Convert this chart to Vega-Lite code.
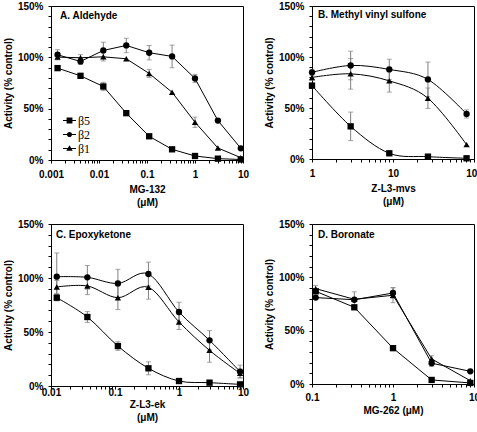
{
  "$schema": "https://vega.github.io/schema/vega-lite/v6.json",
  "padding": {"left": 2, "top": 0, "right": 0, "bottom": 0},
  "background": "white",
  "datasets": {
    "d": [
      {"p":"A","s":"β5","x":0.00137,"y":89.5},
      {"p":"A","s":"β5","x":0.00412,"y":82},
      {"p":"A","s":"β5","x":0.0123,"y":71.6,"lo":67.6,"hi":75.6},
      {"p":"A","s":"β5","x":0.037,"y":45.6},
      {"p":"A","s":"β5","x":0.111,"y":23.1},
      {"p":"A","s":"β5","x":0.333,"y":10.4},
      {"p":"A","s":"β5","x":1,"y":3.9},
      {"p":"A","s":"β5","x":3,"y":1.3},
      {"p":"A","s":"β5","x":9,"y":0.5},
      {"p":"A","s":"β2","x":0.00137,"y":102.5,"lo":97.5,"hi":107.5},
      {"p":"A","s":"β2","x":0.00412,"y":96,"lo":93,"hi":99},
      {"p":"A","s":"β2","x":0.0123,"y":106.7,"lo":98.7,"hi":114.7},
      {"p":"A","s":"β2","x":0.037,"y":111.6,"lo":104.6,"hi":118.6},
      {"p":"A","s":"β2","x":0.111,"y":104.5,"lo":97.5,"hi":111.5},
      {"p":"A","s":"β2","x":0.333,"y":100.9,"lo":89.9,"hi":111.9},
      {"p":"A","s":"β2","x":1,"y":79.4,"lo":75.4,"hi":83.4},
      {"p":"A","s":"β2","x":3,"y":38.4,"lo":36.4,"hi":40.4},
      {"p":"A","s":"β2","x":9,"y":11.4},
      {"p":"A","s":"β1","x":0.00137,"y":100.2},
      {"p":"A","s":"β1","x":0.00412,"y":99.6,"lo":96.6,"hi":102.6},
      {"p":"A","s":"β1","x":0.0123,"y":100.5,"lo":96.5,"hi":104.5},
      {"p":"A","s":"β1","x":0.037,"y":98.6},
      {"p":"A","s":"β1","x":0.111,"y":84.3,"lo":80.3,"hi":88.3},
      {"p":"A","s":"β1","x":0.333,"y":66},
      {"p":"A","s":"β1","x":1,"y":36.8,"lo":31.8,"hi":41.8},
      {"p":"A","s":"β1","x":3,"y":11.7},
      {"p":"A","s":"β1","x":9,"y":2.3},

      {"p":"B","s":"β5","x":1,"y":72},
      {"p":"B","s":"β5","x":3,"y":32,"lo":18,"hi":46},
      {"p":"B","s":"β5","x":9,"y":5.6},
      {"p":"B","s":"β5","x":27,"y":2.3},
      {"p":"B","s":"β5","x":81,"y":0.7},
      {"p":"B","s":"β2","x":1,"y":85,"lo":82,"hi":88},
      {"p":"B","s":"β2","x":3,"y":91.7,"lo":77.7,"hi":105.7},
      {"p":"B","s":"β2","x":9,"y":87.8,"lo":77.8,"hi":97.8},
      {"p":"B","s":"β2","x":27,"y":78,"lo":61,"hi":95},
      {"p":"B","s":"β2","x":81,"y":44.2,"lo":40.2,"hi":48.2},
      {"p":"B","s":"β1","x":1,"y":80,"lo":77,"hi":83},
      {"p":"B","s":"β1","x":3,"y":83.5,"lo":68.5,"hi":98.5},
      {"p":"B","s":"β1","x":9,"y":76.6,"lo":65.6,"hi":87.6},
      {"p":"B","s":"β1","x":27,"y":59.6,"lo":49.6,"hi":69.6},
      {"p":"B","s":"β1","x":81,"y":14.1},

      {"p":"C","s":"β5","x":0.0123,"y":81.8,"lo":78.8,"hi":84.8},
      {"p":"C","s":"β5","x":0.037,"y":63.9,"lo":58.9,"hi":68.9},
      {"p":"C","s":"β5","x":0.111,"y":37,"lo":33,"hi":41},
      {"p":"C","s":"β5","x":0.333,"y":16.4,"lo":10.4,"hi":22.4},
      {"p":"C","s":"β5","x":1,"y":4.6},
      {"p":"C","s":"β5","x":3,"y":3.1},
      {"p":"C","s":"β5","x":9,"y":1.5},
      {"p":"C","s":"β2","x":0.0123,"y":101.2,"lo":79.2,"hi":123.2},
      {"p":"C","s":"β2","x":0.037,"y":100.6,"lo":89.6,"hi":111.6},
      {"p":"C","s":"β2","x":0.111,"y":95,"lo":82,"hi":108},
      {"p":"C","s":"β2","x":0.333,"y":103.7,"lo":92.7,"hi":114.7},
      {"p":"C","s":"β2","x":1,"y":68.5,"lo":59.5,"hi":77.5},
      {"p":"C","s":"β2","x":3,"y":42.3,"lo":33.3,"hi":51.3},
      {"p":"C","s":"β2","x":9,"y":13.3,"lo":7.3,"hi":19.3},
      {"p":"C","s":"β1","x":0.0123,"y":91.7,"lo":85.7,"hi":97.7},
      {"p":"C","s":"β1","x":0.037,"y":92.6,"lo":84.6,"hi":100.6},
      {"p":"C","s":"β1","x":0.111,"y":81.8,"lo":70.8,"hi":92.8},
      {"p":"C","s":"β1","x":0.333,"y":91.4,"lo":80.4,"hi":102.4},
      {"p":"C","s":"β1","x":1,"y":59.3,"lo":52.3,"hi":66.3},
      {"p":"C","s":"β1","x":3,"y":33,"lo":22,"hi":44},
      {"p":"C","s":"β1","x":9,"y":11.7,"lo":7.7,"hi":15.7},

      {"p":"D","s":"β5","x":0.111,"y":86.9},
      {"p":"D","s":"β5","x":0.333,"y":71.9},
      {"p":"D","s":"β5","x":1,"y":33.6},
      {"p":"D","s":"β5","x":3,"y":3.8},
      {"p":"D","s":"β5","x":9,"y":1},
      {"p":"D","s":"β2","x":0.111,"y":81},
      {"p":"D","s":"β2","x":0.333,"y":79},
      {"p":"D","s":"β2","x":1,"y":85.3,"lo":80.3,"hi":90.3},
      {"p":"D","s":"β2","x":3,"y":19.5,"lo":16.5,"hi":22.5},
      {"p":"D","s":"β2","x":9,"y":11.9},
      {"p":"D","s":"β1","x":0.111,"y":89.4,"lo":86.4,"hi":92.4},
      {"p":"D","s":"β1","x":0.333,"y":79.4,"lo":72.4,"hi":86.4},
      {"p":"D","s":"β1","x":1,"y":83.2,"lo":76.2,"hi":90.2},
      {"p":"D","s":"β1","x":3,"y":23.5,"lo":20.5,"hi":26.5},
      {"p":"D","s":"β1","x":9,"y":3.1}
    ]
  },
  "resolve": {"scale": {"shape": "independent"}, "legend": {"shape": "independent"}},
  "spacing": 10,
  "vconcat": [
    {
      "resolve": {"scale": {"shape": "independent"}, "legend": {"shape": "independent"}},
      "spacing": 13,
      "hconcat": [
        {
          "width": 192, "height": 154,
          "title": {"text": "A. Aldehyde", "dx": 9, "offset": -20},
          "data": {"name": "d"},
          "transform": [{"filter": "datum.p == 'A'"}],
          "resolve": {"scale": {"shape": "independent", "size": "independent"}, "legend": {"shape": "independent"}},
          "encoding": {
            "x": {"field": "x", "type": "quantitative",
              "scale": {"type": "log", "domain": [0.001, 10]},
              "axis": {"title": ["MG-132", "(μM)"],
                "values": [0.001,0.002,0.003,0.004,0.005,0.006,0.007,0.008,0.009,0.01,0.02,0.03,0.04,0.05,0.06,0.07,0.08,0.09,0.1,0.2,0.3,0.4,0.5,0.6,0.7,0.8,0.9,1,2,3,4,5,6,7,8,9,10],
                "labelExpr": "indexof([0.001,0.01,0.1,1,10,100], datum.value) >= 0 ? format(datum.value, '~g') : ''",
                "labelPadding": 6, "titlePadding": 5}},
            "y": {"field": "y", "type": "quantitative", "scale": {"domain": [0, 150]},
              "axis": {"title": "Activity (% control)", "values": [0,10,20,30,40,50,60,70,80,90,100,110,120,130,140,150],
                "labelExpr": "datum.value % 50 == 0 ? datum.value + '%' : ''"}}
          },
          "layer": [
            {"transform": [{"filter": "isValid(datum.lo)"}], "mark": {"type": "rule", "color": "#808080", "strokeWidth": 1},
             "encoding": {"y": {"field": "lo", "type": "quantitative"}, "y2": {"field": "hi"}}},
            {"transform": [{"filter": "isValid(datum.lo)"}], "mark": {"type": "tick", "orient": "horizontal", "color": "#808080", "size": 5, "thickness": 1},
             "encoding": {"y": {"field": "lo", "type": "quantitative"}}},
            {"transform": [{"filter": "isValid(datum.lo)"}], "mark": {"type": "tick", "orient": "horizontal", "color": "#808080", "size": 5, "thickness": 1},
             "encoding": {"y": {"field": "hi", "type": "quantitative"}}},
            {"mark": {"type": "line", "color": "black", "strokeWidth": 1}, "encoding": {"detail": {"field": "s"}}},
            {"mark": {"type": "point", "filled": true, "color": "black", "opacity": 1},
             "encoding": {
               "shape": {"field": "s", "type": "nominal",
                 "scale": {"domain": ["β5", "β2", "β1"], "range": ["square", "circle", "triangle-up"]},
                 "legend": null},
               "size": {"value": 40}
             }
            },
            {"transform": [{"filter": "false"}],
             "mark": {"type": "point", "filled": true, "color": "black", "opacity": 1, "size": 169},
             "encoding": {
               "shape": {"field": "s", "type": "nominal",
                 "scale": {"domain": ["β5", "β2", "β1"], "range": [
                   "M-1,-0.08H1V0.08H-1ZM-0.45,-0.45H0.45V0.45H-0.45Z",
                   "M-1,-0.08H1V0.08H-1ZM0.4,0A0.4,0.4,0,1,1,-0.4,0A0.4,0.4,0,1,1,0.4,0Z",
                   "M-1,-0.08H1V0.08H-1ZM0,-0.5L0.5,0.35H-0.5Z"]},
                 "legend": {"orient": "none", "legendX": 11, "legendY": 107, "title": null, "padding": 0,
                   "labelFont": "Liberation Serif", "labelFontSize": 12, "labelFontWeight": "normal", "labelColor": "black",
                   "symbolSize": 169, "symbolFillColor": "black", "symbolOpacity": 1,
                   "rowPadding": 0, "labelOffset": 1}
               },
               "size": {"value": 169}
             }
            }
          ]
        },
        {
          "width": 162, "height": 153,
          "title": {"text": "B. Methyl vinyl sulfone", "dx": 6, "offset": -19},
          "data": {"name": "d"},
          "transform": [{"filter": "datum.p == 'B'"}],
          "encoding": {
            "x": {"field": "x", "type": "quantitative",
              "scale": {"type": "log", "domain": [1, 100]},
              "axis": {"title": ["Z-L3-mvs", "(μM)"],
                "values": [1,2,3,4,5,6,7,8,9,10,20,30,40,50,60,70,80,90,100],
                "labelExpr": "indexof([0.001,0.01,0.1,1,10,100], datum.value) >= 0 ? format(datum.value, '~g') : ''",
                "labelPadding": 6, "titlePadding": 5}},
            "y": {"field": "y", "type": "quantitative", "scale": {"domain": [0, 150]},
              "axis": {"title": "Activity (% control)", "values": [0,10,20,30,40,50,60,70,80,90,100,110,120,130,140,150],
                "labelExpr": "datum.value % 50 == 0 ? datum.value + '%' : ''"}}
          },
          "layer": [
            {"transform": [{"filter": "isValid(datum.lo)"}], "mark": {"type": "rule", "color": "#808080", "strokeWidth": 1},
             "encoding": {"y": {"field": "lo", "type": "quantitative"}, "y2": {"field": "hi"}}},
            {"transform": [{"filter": "isValid(datum.lo)"}], "mark": {"type": "tick", "orient": "horizontal", "color": "#808080", "size": 5, "thickness": 1},
             "encoding": {"y": {"field": "lo", "type": "quantitative"}}},
            {"transform": [{"filter": "isValid(datum.lo)"}], "mark": {"type": "tick", "orient": "horizontal", "color": "#808080", "size": 5, "thickness": 1},
             "encoding": {"y": {"field": "hi", "type": "quantitative"}}},
            {"mark": {"type": "line", "color": "black", "strokeWidth": 1, "interpolate": "cardinal"}, "encoding": {"detail": {"field": "s"}}},
            {"mark": {"type": "point", "filled": true, "color": "black", "opacity": 1},
             "encoding": {"shape": {"field": "s", "type": "nominal",
               "scale": {"domain": ["β5", "β2", "β1"], "range": ["square", "circle", "triangle-up"]}, "legend": null},
               "size": {"value": 40}}}
          ]
        }
      ]
    },
    {
      "resolve": {"scale": {"shape": "independent"}, "legend": {"shape": "independent"}},
      "spacing": 13,
      "hconcat": [
        {
          "width": 192, "height": 162,
          "title": {"text": "C. Epoxyketone", "dx": 5, "offset": -21},
          "data": {"name": "d"},
          "transform": [{"filter": "datum.p == 'C'"}],
          "encoding": {
            "x": {"field": "x", "type": "quantitative",
              "scale": {"type": "log", "domain": [0.01, 10]},
              "axis": {"title": ["Z-L3-ek", "(μM)"],
                "values": [0.01,0.02,0.03,0.04,0.05,0.06,0.07,0.08,0.09,0.1,0.2,0.3,0.4,0.5,0.6,0.7,0.8,0.9,1,2,3,4,5,6,7,8,9,10],
                "labelExpr": "indexof([0.001,0.01,0.1,1,10,100], datum.value) >= 0 ? format(datum.value, '~g') : ''",
                "labelPadding": -2, "titlePadding": 2}},
            "y": {"field": "y", "type": "quantitative", "scale": {"domain": [0, 150]},
              "axis": {"title": "Activity (% control)", "values": [0,10,20,30,40,50,60,70,80,90,100,110,120,130,140,150],
                "labelExpr": "datum.value % 50 == 0 ? datum.value + '%' : ''"}}
          },
          "layer": [
            {"transform": [{"filter": "isValid(datum.lo)"}], "mark": {"type": "rule", "color": "#808080", "strokeWidth": 1},
             "encoding": {"y": {"field": "lo", "type": "quantitative"}, "y2": {"field": "hi"}}},
            {"transform": [{"filter": "isValid(datum.lo)"}], "mark": {"type": "tick", "orient": "horizontal", "color": "#808080", "size": 5, "thickness": 1},
             "encoding": {"y": {"field": "lo", "type": "quantitative"}}},
            {"transform": [{"filter": "isValid(datum.lo)"}], "mark": {"type": "tick", "orient": "horizontal", "color": "#808080", "size": 5, "thickness": 1},
             "encoding": {"y": {"field": "hi", "type": "quantitative"}}},
            {"mark": {"type": "line", "color": "black", "strokeWidth": 1, "interpolate": "cardinal"}, "encoding": {"detail": {"field": "s"}}},
            {"mark": {"type": "point", "filled": true, "color": "black", "opacity": 1},
             "encoding": {"shape": {"field": "s", "type": "nominal",
               "scale": {"domain": ["β5", "β2", "β1"], "range": ["square", "circle", "triangle-up"]}, "legend": null},
               "size": {"value": 40}}}
          ]
        },
        {
          "width": 162, "height": 160,
          "title": {"text": "D. Boronate", "dx": 6, "offset": -21},
          "data": {"name": "d"},
          "transform": [{"filter": "datum.p == 'D'"}],
          "encoding": {
            "x": {"field": "x", "type": "quantitative",
              "scale": {"type": "log", "domain": [0.1, 10]},
              "axis": {"title": "MG-262 (μM)",
                "values": [0.1,0.2,0.3,0.4,0.5,0.6,0.7,0.8,0.9,1,2,3,4,5,6,7,8,9,10],
                "labelExpr": "indexof([0.001,0.01,0.1,1,10,100], datum.value) >= 0 ? format(datum.value, '~g') : ''",
                "labelPadding": 5, "titlePadding": 3}},
            "y": {"field": "y", "type": "quantitative", "scale": {"domain": [0, 150]},
              "axis": {"title": "Activity (% control)", "values": [0,10,20,30,40,50,60,70,80,90,100,110,120,130,140,150],
                "labelExpr": "datum.value % 50 == 0 ? datum.value + '%' : ''"}}
          },
          "layer": [
            {"transform": [{"filter": "isValid(datum.lo)"}], "mark": {"type": "rule", "color": "#808080", "strokeWidth": 1},
             "encoding": {"y": {"field": "lo", "type": "quantitative"}, "y2": {"field": "hi"}}},
            {"transform": [{"filter": "isValid(datum.lo)"}], "mark": {"type": "tick", "orient": "horizontal", "color": "#808080", "size": 5, "thickness": 1},
             "encoding": {"y": {"field": "lo", "type": "quantitative"}}},
            {"transform": [{"filter": "isValid(datum.lo)"}], "mark": {"type": "tick", "orient": "horizontal", "color": "#808080", "size": 5, "thickness": 1},
             "encoding": {"y": {"field": "hi", "type": "quantitative"}}},
            {"mark": {"type": "line", "color": "black", "strokeWidth": 1}, "encoding": {"detail": {"field": "s"}}},
            {"mark": {"type": "point", "filled": true, "color": "black", "opacity": 1},
             "encoding": {"shape": {"field": "s", "type": "nominal",
               "scale": {"domain": ["β5", "β2", "β1"], "range": ["square", "circle", "triangle-up"]}, "legend": null},
               "size": {"value": 40}}}
          ]
        }
      ]
    }
  ],
  "config": {
    "font": "Liberation Sans",
    "view": {"stroke": "black", "strokeWidth": 1},
    "axis": {"domainColor": "black", "tickColor": "black", "labelColor": "black", "titleColor": "black",
      "labelFont": "Liberation Sans", "titleFont": "Liberation Sans",
      "labelFontWeight": "bold", "titleFontWeight": "bold", "labelFontSize": 10, "titleFontSize": 10,
      "tickSize": 3, "grid": false, "labelOverlap": false, "labelBound": false},
    "axisY": {"labelPadding": 5, "titlePadding": 4},
    "axisX": {"labelFlush": false, "titleLineHeight": 13},
    "title": {"anchor": "start", "frame": "group", "fontSize": 10, "fontWeight": "bold", "font": "Liberation Sans", "color": "black"}
  }
}
